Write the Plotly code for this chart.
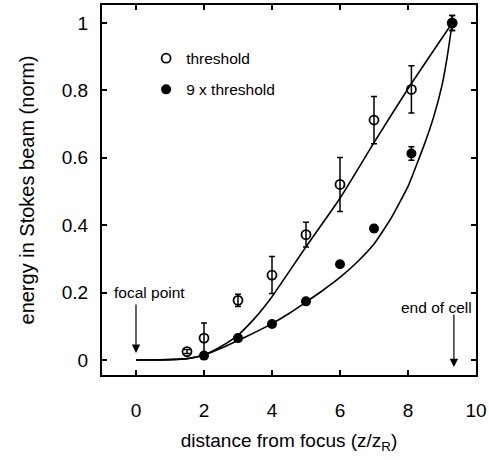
import plotly.graph_objects as go

# threshold (open circles)
thr_x = [1.5, 2, 3, 4, 5, 6, 7, 8.1, 9.3]
thr_y = [0.025, 0.065, 0.177, 0.252, 0.372, 0.521, 0.712, 0.803, 1.0]
thr_err = [0.006, 0.045, 0.018, 0.055, 0.037, 0.08, 0.07, 0.07, 0.022]

# 9 x threshold (filled circles)
nine_x = [2, 3, 4, 5, 6, 7, 8.1, 9.3]
nine_y = [0.013, 0.065, 0.107, 0.174, 0.284, 0.39, 0.613, 1.0]
nine_err = [0, 0, 0, 0, 0, 0.01, 0.02, 0.022]

# fitted curves
fit1_x = [0, 1, 1.5, 2, 2.5, 3, 3.5, 4, 5, 6, 7, 8, 9.3]
fit1_y = [0, 0.001, 0.004, 0.015, 0.04, 0.074, 0.125, 0.188, 0.336, 0.48, 0.645, 0.805, 1.0]
fit2_x = [0, 0.5, 1, 1.5, 2, 2.5, 3, 3.5, 4, 4.5, 5, 5.5, 6, 6.5, 7, 7.5, 8, 8.5, 8.75, 9, 9.15, 9.3]
fit2_y = [0, 0, 0.001, 0.004, 0.015, 0.035, 0.058, 0.082, 0.108, 0.138, 0.172, 0.207, 0.245, 0.29, 0.344, 0.42, 0.515, 0.645, 0.72, 0.815, 0.897, 1.0]

x_ticks = [0, 2, 4, 6, 8, 10]
y_ticks = [0, 0.2, 0.4, 0.6, 0.8, 1]
y_tick_text = ["0", "0.2", "0.4", "0.6", "0.8", "1"]

FONT = "Liberation Sans, Arial, Helvetica, sans-serif"

fig = go.Figure()
fig.add_trace(go.Scatter(x=fit1_x, y=fit1_y, mode="lines", line=dict(color="black", width=1.6, shape="spline", smoothing=0.5), showlegend=False, hoverinfo="skip"))
fig.add_trace(go.Scatter(x=fit2_x, y=fit2_y, mode="lines", line=dict(color="black", width=1.6, shape="spline", smoothing=0.4), showlegend=False, hoverinfo="skip"))
fig.add_trace(go.Scatter(
    x=thr_x, y=thr_y, mode="markers", name="threshold", legendgroup="a",
    marker=dict(symbol="circle-open", size=9, color="black", line=dict(width=1.8, color="black")),
    error_y=dict(type="data", array=thr_err, visible=True, color="black", thickness=1.5, width=3),
))
fig.add_trace(go.Scatter(
    x=nine_x, y=nine_y, mode="markers", name="9 x threshold", legendgroup="b",
    marker=dict(symbol="circle", size=10, color="black"),
    error_y=dict(type="data", array=nine_err, visible=True, color="black", thickness=1.5, width=3),
))

fig.add_annotation(x=0, y=0.021, xref="x", yref="y", text="", showarrow=True, ax=0, ay=-50,
                   arrowhead=2, arrowsize=1.4, arrowwidth=1.2, arrowcolor="black", standoff=0)
fig.add_annotation(x=9.35, y=-0.021, xref="x", yref="y", text="", showarrow=True, ax=0, ay=-54,
                   arrowhead=2, arrowsize=1.4, arrowwidth=1.2, arrowcolor="black", standoff=0)
fig.add_annotation(x=0.40, y=0.199, xref="x", yref="y", text="focal point", showarrow=False,
                   font=dict(family=FONT, size=15.5, color="black"))
fig.add_annotation(x=8.85, y=0.156, xref="x", yref="y", text="end of cell", showarrow=False,
                   font=dict(family=FONT, size=15.5, color="black"))

axis_common = dict(showline=True, linewidth=2, linecolor="black", mirror="allticks",
                   ticks="inside", ticklen=5, tickwidth=1.5, tickcolor="black",
                   showgrid=False, zeroline=False,
                   tickfont=dict(family=FONT, size=19, color="black"))

fig.update_xaxes(range=[-1, 10], tickvals=x_ticks, ticklabelstandoff=17,
                 title=dict(text="distance from focus (z/z<sub>R</sub>)", font=dict(family=FONT, size=19, color="black"), standoff=14),
                 **axis_common)
fig.update_yaxes(range=[-0.0445, 1.0534], tickvals=y_ticks, ticktext=y_tick_text, ticklabelstandoff=8,
                 title=dict(text="energy in Stokes beam (norm)", font=dict(family=FONT, size=20, color="black"), standoff=22),
                 **axis_common)

fig.update_layout(
    width=489, height=460,
    margin=dict(l=102, r=13, t=5, b=85, autoexpand=False),
    paper_bgcolor="white", plot_bgcolor="white",
    font=dict(family=FONT, color="black"),
    showlegend=True,
    legend=dict(x=0.118, y=0.901, xanchor="left", yanchor="top", bgcolor="rgba(0,0,0,0)",
                font=dict(family=FONT, size=15.5, color="black"), tracegroupgap=8,
                traceorder="grouped"),
)

fig.write_html("out.html")
